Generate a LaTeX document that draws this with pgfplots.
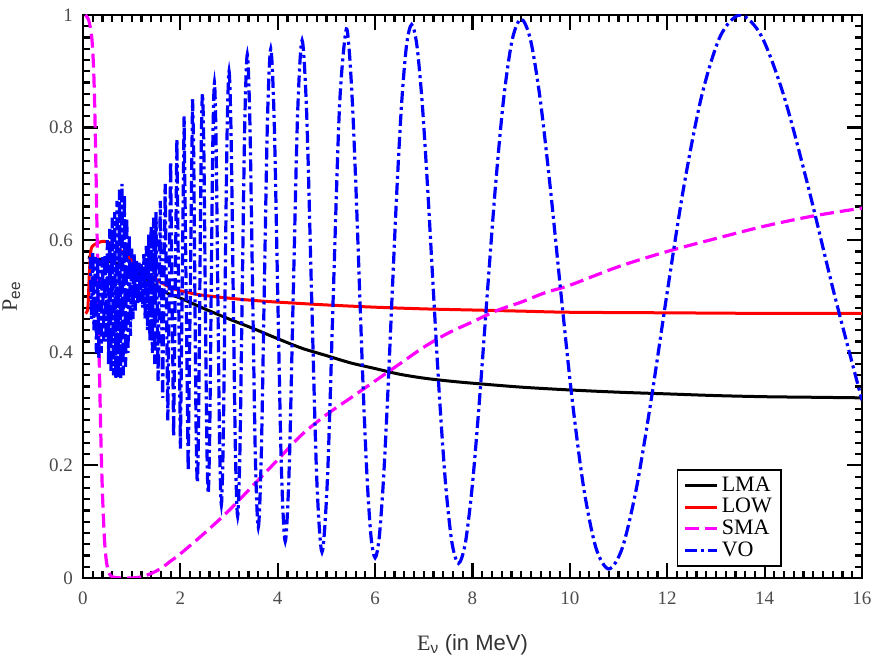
\documentclass[border=0pt]{standalone}
\usepackage{fontspec}
\setmainfont{Liberation Serif}
\setsansfont{Liberation Sans}
\usepackage{pgfplots}
\pgfplotsset{compat=1.18}

\definecolor{voblue}{RGB}{0,0,255}
\definecolor{smamag}{RGB}{255,0,255}
\definecolor{lowred}{RGB}{255,0,0}

\pgfplotsset{
  vo/.style={voblue, line width=1.6pt, dash pattern=on 6pt off 2pt on 1.5pt off 2pt},
  sma/.style={smamag, line width=1.6pt, dash pattern=on 7pt off 3pt},
  low/.style={lowred, line width=1.5pt},
  lma/.style={black, line width=1.5pt},
}

\begin{document}
\begin{tikzpicture}
\begin{axis}[name=ax,
  scale only axis, width=389.5pt, height=281.5pt,
  xmin=0, xmax=16, ymin=0, ymax=1,
  xtick={0,2,...,16}, ytick={0,0.2,...,1},
  minor x tick num=9, minor y tick num=9,
  tick align=inside, tick pos=both,
  major tick length=7.5pt, minor tick length=3.5pt,
  tick style={line width=1.1pt, black},
  axis line style={line width=1.2pt},
  /pgf/number format/assume math mode=true,
  ticklabel style={font=\fontsize{9.5}{11}\selectfont, text=black!70},
  xticklabel style={yshift=-3.5pt},
  yticklabel style={xshift=-1.5pt},
  xlabel={E\textsubscript{\sffamily ν} {\sffamily (in MeV)}},
  ylabel={P\textsubscript{\sffamily ee}},
  label style={font=\fontsize{11}{13}\selectfont, text=black!80},
  xlabel style={at={(axis description cs:0.5,-0.118)}, anchor=center},
  ylabel style={at={(axis description cs:-0.092,0.5)}, anchor=center},
  legend style={at={(0.897,0.0195)}, anchor=south east, draw=black,
    line width=0.9pt, font=\fontsize{11}{12}\selectfont,
    inner xsep=3pt, inner ysep=2pt, row sep=-1pt,
    nodes={inner sep=1.5pt}},
  legend cell align=left,
  legend image code/.code={\draw[#1] (0pt,0pt) -- (16pt,0pt);},
]

% LMA
\addplot[lma, smooth] coordinates {
(0.1,0.57) (0.3,0.567) (0.5,0.563) (0.75,0.557) (1.0,0.548) (1.25,0.535)
(1.5,0.518) (1.75,0.505) (2.0,0.497) (2.5,0.478) (3.0,0.46) (3.5,0.443)
(4.0,0.425) (4.5,0.408) (5.0,0.395) (5.5,0.382) (6.0,0.372) (6.5,0.362)
(7.0,0.355) (7.5,0.35) (8.0,0.346) (9.0,0.339) (10.0,0.334) (11.0,0.33)
(12.0,0.327) (13.0,0.324) (14.0,0.322) (15.0,0.321) (16.0,0.32)
};
\addlegendentry{LMA}

% LOW
\addplot[low, smooth] coordinates {
(0.05,0.47) (0.1,0.48) (0.13,0.54) (0.16,0.58) (0.2,0.59) (0.3,0.595)
(0.4,0.598) (0.5,0.597) (0.6,0.593) (0.8,0.58) (1.0,0.565) (1.2,0.55)
(1.4,0.537) (1.6,0.525) (1.8,0.516) (2.0,0.51) (2.4,0.503) (3.0,0.497)
(3.5,0.493) (4.0,0.49) (5.0,0.485) (6.0,0.481) (7.0,0.478) (8.0,0.476)
(9.0,0.474) (10.0,0.472) (12.0,0.471) (14.0,0.47) (16.0,0.47)
};
\addlegendentry{LOW}

% SMA
\addplot[sma, smooth] coordinates {
(0.05,1.0) (0.12,0.99) (0.18,0.96) (0.22,0.90) (0.25,0.80) (0.28,0.66)
(0.31,0.50) (0.34,0.36) (0.37,0.24) (0.40,0.15) (0.44,0.07) (0.48,0.03)
(0.53,0.01) (0.6,0.002) (0.8,0.0) (1.0,0.0) (1.2,0.002) (1.4,0.008)
(1.6,0.017) (1.8,0.03) (2.0,0.043) (2.5,0.08) (3.0,0.12) (3.5,0.165)
(4.0,0.21) (4.5,0.255) (5.0,0.29) (5.5,0.32) (6.0,0.35) (6.5,0.38)
(7.0,0.41) (7.5,0.435) (8.0,0.455) (8.5,0.475) (9.0,0.49) (9.5,0.507)
(10.0,0.52) (11.0,0.553) (12.0,0.58) (13.0,0.603) (14.0,0.625)
(15.0,0.643) (16.0,0.657)
};
\addlegendentry{SMA}

% VO, dense low-energy part (band)
\addplot[vo] coordinates {
(0.15,0.57) (0.175,0.46) (0.2,0.58) (0.225,0.44) (0.25,0.57) (0.275,0.40)
(0.3,0.57) (0.325,0.39) (0.35,0.565) (0.375,0.40) (0.4,0.57) (0.425,0.42)
(0.45,0.575) (0.475,0.42) (0.5,0.60) (0.525,0.38) (0.55,0.62) (0.575,0.365)
(0.6,0.64) (0.625,0.36) (0.65,0.65) (0.675,0.355) (0.7,0.67) (0.725,0.355)
(0.75,0.69) (0.775,0.355) (0.8,0.70) (0.825,0.36) (0.85,0.68) (0.875,0.375)
(0.9,0.64) (0.925,0.40) (0.95,0.61) (0.975,0.43) (1.0,0.585) (1.025,0.46)
(1.05,0.575) (1.075,0.475) (1.1,0.565) (1.125,0.485) (1.15,0.56) (1.175,0.49)
(1.2,0.56) (1.225,0.48) (1.25,0.575) (1.275,0.46) (1.3,0.59) (1.325,0.44)
(1.35,0.61) (1.375,0.42) (1.4,0.625) (1.425,0.40) (1.45,0.64) (1.475,0.38)
(1.5,0.65) (1.5429,0.35) (1.5882,0.67) (1.6364,0.32) (1.6875,0.70)
(1.7419,0.28) (1.8,0.74) (1.8621,0.25) (1.9286,0.78) (2.0,0.23)
(2.0769,0.82) (2.16,0.19) (2.25,0.85)
};
\addlegendentry{VO}
% VO, resolved oscillations
\addplot[vo, smooth, forget plot] coordinates {
(2.25,0.85) (2.2737,0.7504) (2.2979,0.51) (2.3226,0.2696) (2.3478,0.17)
(2.3736,0.271) (2.4,0.515) (2.427,0.759) (2.4545,0.86) (2.4828,0.756)
(2.5116,0.505) (2.5412,0.254) (2.5714,0.15) (2.6024,0.2569) (2.6341,0.515)
(2.6667,0.7731) (2.7,0.88) (2.7342,0.7702) (2.7692,0.505) (2.8052,0.2398)
(2.8421,0.13) (2.88,0.2428) (2.9189,0.515) (2.9589,0.7872) (3.0,0.90)
(3.0423,0.7843) (3.0857,0.505) (3.1304,0.2257) (3.1765,0.11) (3.2239,0.23)
(3.2727,0.52) (3.3231,0.81) (3.375,0.93) (3.4286,0.807) (3.4839,0.51)
(3.541,0.213) (3.6,0.09) (3.661,0.2145) (3.7241,0.515) (3.7895,0.8155)
(3.8571,0.94) (3.9273,0.8119) (4.0,0.5025) (4.0755,0.1931) (4.1538,0.065)
(4.2353,0.1953) (4.32,0.51) (4.4082,0.8247) (4.5,0.955) (4.5957,0.8219)
(4.6957,0.5005) (4.8,0.1791) (4.9091,0.046) (5.0233,0.1816) (5.1429,0.509)
(5.2683,0.8364) (5.4,0.972) (5.4684,0.9364) (5.5385,0.8349) (5.6104,0.6831)
(5.6842,0.504) (5.76,0.3249) (5.8378,0.1731) (5.9178,0.0716) (6.0,0.036)
(6.0845,0.072) (6.1714,0.1747) (6.2609,0.3283) (6.3529,0.5095) (6.4478,0.6907)
(6.5455,0.8443) (6.6462,0.947) (6.75,0.983) (6.8571,0.9466) (6.9677,0.8429)
(7.082,0.6876) (7.2,0.5045) (7.322,0.3214) (7.4483,0.1661) (7.5789,0.0624)
(7.7143,0.026) (7.8545,0.0628) (8.0,0.1676) (8.1509,0.3245) (8.3077,0.5095)
(8.4706,0.6945) (8.64,0.8514) (8.8163,0.9562) (9.0,0.993) (9.1915,0.9558)
(9.3913,0.8499) (9.6,0.6914) (9.8182,0.5045) (10.0465,0.3176) (10.2857,0.1591)
(10.5366,0.0532) (10.8,0.016) (11.0769,0.0534) (11.3684,0.1601) (11.6757,0.3197)
(12.0,0.508) (12.3429,0.6963) (12.7059,0.8559) (13.0909,0.9626) (13.5,1.0)
(13.9355,0.9624) (14.4,0.855) (14.8966,0.6944) (15.4286,0.505) (16.0,0.3156)
};
\end{axis}
\pgfresetboundingbox
\path ([xshift=-41.5pt,yshift=-42.5pt]ax.south west) rectangle ([xshift=6.5pt,yshift=7.5pt]ax.north east);
\end{tikzpicture}
\end{document}
